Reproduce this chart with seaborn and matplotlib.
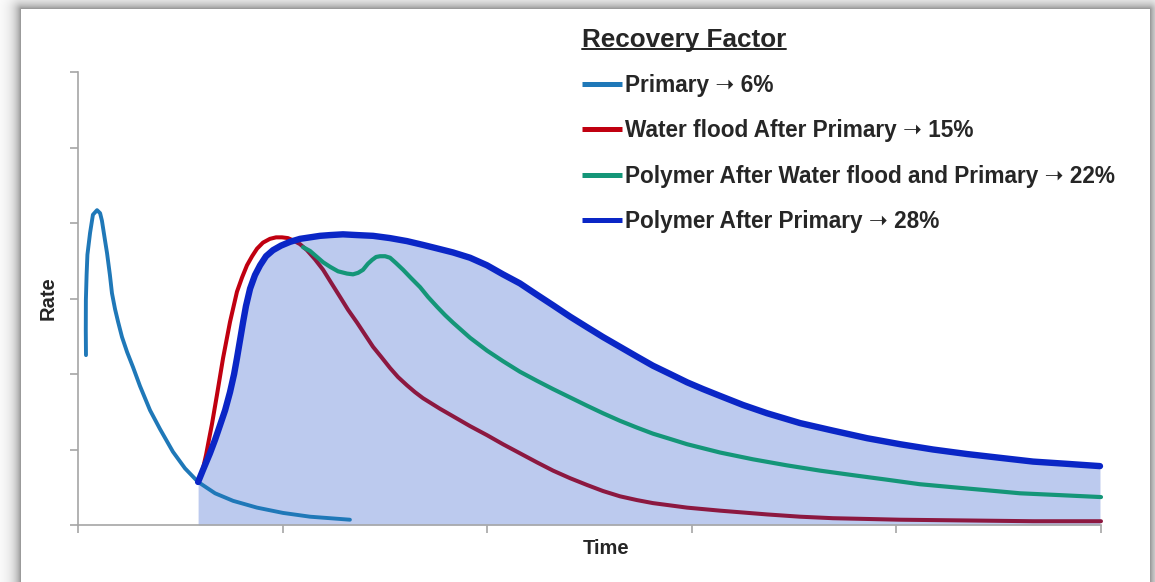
import numpy as np
import pandas as pd
import matplotlib
matplotlib.use("Agg")
import matplotlib.pyplot as plt
from matplotlib.lines import Line2D
import seaborn as sns

# ---- production profiles (time and rate in arbitrary units) ----
primary_t = [0.039, 0.038, 0.0385, 0.042, 0.046, 0.059, 0.073, 0.093, 0.108, 0.117, 0.132,
             0.142, 0.156, 0.166, 0.181, 0.196, 0.215, 0.240, 0.269, 0.303, 0.352, 0.401,
             0.464, 0.523, 0.587, 0.670, 0.758, 0.875, 1.002, 1.134, 1.329]
primary_q = [2.25, 2.58, 2.98, 3.31, 3.58, 3.87, 4.11, 4.17, 4.13, 4.03, 3.77,
             3.60, 3.31, 3.07, 2.86, 2.69, 2.49, 2.29, 2.09, 1.84, 1.52, 1.27,
             0.97, 0.75, 0.57, 0.42, 0.32, 0.23, 0.16, 0.11, 0.07]

# water flood: ramp-up phase, then decline phase
wf_rise_t = [0.587, 0.596, 0.611, 0.626, 0.640, 0.655, 0.679, 0.709, 0.743, 0.777, 0.802,
             0.826, 0.851, 0.875, 0.904, 0.938, 0.968, 0.997, 1.026, 1.051]
wf_rise_q = [0.57, 0.62, 0.75, 0.93, 1.13, 1.34, 1.72, 2.21, 2.69, 3.09, 3.28,
             3.44, 3.56, 3.66, 3.74, 3.79, 3.81, 3.81, 3.80, 3.77]
wf_decl_t = [1.051, 1.085, 1.119, 1.158, 1.198, 1.237, 1.281, 1.320, 1.364, 1.403, 1.442,
             1.481, 1.525, 1.564, 1.608, 1.647, 1.686, 1.769, 1.833, 1.916, 1.999, 2.077,
             2.160, 2.243, 2.322, 2.405, 2.488, 2.566, 2.649, 2.732, 2.810, 2.894, 2.977,
             3.138, 3.368, 3.529, 3.690, 3.856, 4.018, 4.345, 4.668, 5.000]
wf_decl_q = [3.77, 3.72, 3.64, 3.52, 3.38, 3.21, 3.02, 2.85, 2.68, 2.52, 2.36,
             2.23, 2.08, 1.96, 1.85, 1.76, 1.68, 1.54, 1.44, 1.31, 1.19, 1.07,
             0.95, 0.83, 0.72, 0.62, 0.53, 0.45, 0.38, 0.33, 0.29, 0.26, 0.23,
             0.19, 0.14, 0.11, 0.09, 0.08, 0.07, 0.06, 0.05, 0.05]

poly_wf_t = [1.100, 1.134, 1.168, 1.198, 1.232, 1.271, 1.315, 1.344, 1.369, 1.393, 1.417,
             1.437, 1.457, 1.476, 1.501, 1.525, 1.554, 1.589, 1.628, 1.672, 1.711, 1.755,
             1.794, 1.833, 1.916, 1.999, 2.077, 2.160, 2.243, 2.322, 2.405, 2.488, 2.566,
             2.649, 2.732, 2.810, 2.894, 2.977, 3.138, 3.299, 3.465, 3.627, 3.788, 3.954,
             4.115, 4.277, 4.443, 4.604, 4.765, 5.000]
poly_wf_q = [3.68, 3.63, 3.55, 3.48, 3.42, 3.36, 3.33, 3.32, 3.34, 3.38, 3.46,
             3.51, 3.55, 3.56, 3.56, 3.54, 3.47, 3.38, 3.27, 3.15, 3.02, 2.89,
             2.78, 2.68, 2.48, 2.31, 2.17, 2.03, 1.91, 1.80, 1.69, 1.58, 1.48,
             1.38, 1.29, 1.21, 1.14, 1.07, 0.96, 0.87, 0.79, 0.72, 0.66, 0.60,
             0.54, 0.50, 0.46, 0.42, 0.40, 0.37]

poly_t = [0.587, 0.611, 0.645, 0.670, 0.694, 0.719, 0.743, 0.763, 0.777, 0.792, 0.807,
          0.821, 0.841, 0.865, 0.890, 0.919, 0.953, 0.992, 1.036, 1.085, 1.134, 1.183,
          1.232, 1.295, 1.364, 1.442, 1.525, 1.608, 1.686, 1.760, 1.833, 1.916, 1.999,
          2.077, 2.160, 2.243, 2.322, 2.405, 2.488, 2.566, 2.649, 2.732, 2.810, 2.894,
          2.977, 3.055, 3.138, 3.250, 3.368, 3.529, 3.690, 3.856, 4.018, 4.179, 4.345,
          4.506, 4.668, 4.834, 4.995]
poly_q = [0.57, 0.73, 0.95, 1.13, 1.32, 1.52, 1.76, 2.00, 2.21, 2.45, 2.69,
          2.90, 3.13, 3.31, 3.44, 3.56, 3.64, 3.70, 3.75, 3.79, 3.81, 3.83,
          3.84, 3.85, 3.84, 3.83, 3.80, 3.76, 3.71, 3.66, 3.61, 3.54, 3.44,
          3.32, 3.20, 3.05, 2.91, 2.76, 2.62, 2.49, 2.36, 2.23, 2.11, 2.00,
          1.89, 1.80, 1.71, 1.59, 1.48, 1.35, 1.25, 1.15, 1.07, 1.00, 0.94,
          0.89, 0.84, 0.81, 0.78]

legend_labels = ["Primary \u279d 6%",
                 "Water flood After Primary \u279d 15%",
                 "Polymer After Water flood and Primary \u279d 22%",
                 "Polymer After Primary \u279d 28%"]
legend_title = "Recovery Factor"

c_primary = "#1f78b8"
c_wf_rise = "#c00010"
c_wf_decl = "#8c1840"
c_poly_wf = "#149678"
c_poly = "#0a26c6"
c_fill = "#bccaee"
c_axis = "#a6a6a6"

sns.set_style("ticks")
plt.rcParams["font.family"] = ["Liberation Sans", "DejaVu Sans"]

W, H = 1155, 582
fig = plt.figure(figsize=(W / 100, H / 100), dpi=100)
fig.patch.set_facecolor("white")

# card background with a soft drop shadow on the top and left
yy, xx = np.mgrid[0:H, 0:W].astype(float)
cx0, cy0, cx1 = 21, 9, 1149
dx = np.maximum(np.maximum(cx0 - xx, 0), xx - cx1)
dy = np.maximum(cy0 - yy, 0)
dist = np.hypot(dx, dy)
shade = np.where(dist > 0, 1 - 0.45 * np.exp(-dist / 7.0), 1.0)
img = np.dstack([shade, shade, shade])
fig.figimage(img, xo=0, yo=0, origin="upper", zorder=-10)

ax = fig.add_axes([78 / W, 57 / H, 1023 / W, 453 / H])
ax.set_zorder(5)
ax.set_facecolor("none")

ax.fill_between(poly_t, poly_q, 0, color=c_fill, lw=0, zorder=1)

line_kw = dict(sort=False, estimator=None, ax=ax, legend=False,
               solid_capstyle="round", solid_joinstyle="round")
sns.lineplot(x=primary_t, y=primary_q, color=c_primary, linewidth=2.8, zorder=3, **line_kw)
sns.lineplot(x=wf_rise_t, y=wf_rise_q, color=c_wf_rise, linewidth=2.9, zorder=4, **line_kw)
sns.lineplot(x=wf_decl_t, y=wf_decl_q, color=c_wf_decl, linewidth=2.9, zorder=4, **line_kw)
sns.lineplot(x=poly_wf_t, y=poly_wf_q, color=c_poly_wf, linewidth=3.0, zorder=5, **line_kw)
sns.lineplot(x=poly_t, y=poly_q, color=c_poly, linewidth=4.6, zorder=6, **line_kw)
for ln in ax.get_lines():
    ln.set_clip_on(False)

ax.set_xlim(0, 5)
ax.set_ylim(0, 6)
ax.set_xticks(range(0, 6))
ax.set_yticks(range(0, 7))
ax.set_xticklabels([])
ax.set_yticklabels([])
ax.tick_params(axis="both", direction="out", length=6, width=1.2, color=c_axis)
sns.despine(ax=ax)
for side in ("left", "bottom"):
    ax.spines[side].set_color(c_axis)
    ax.spines[side].set_linewidth(1.2)

ax.set_xlabel("Time", fontsize=14.5, fontweight="bold")
ax.set_ylabel("Rate", fontsize=14.5, fontweight="bold")
ax.xaxis.label.set_va("center")
ax.yaxis.label.set_va("center")
ax.xaxis.set_label_coords(0.516, -0.052)
ax.yaxis.set_label_coords(-0.0293, 0.5)

handles = [Line2D([], [], color=c, lw=3.6, solid_capstyle="butt")
           for c in (c_primary, c_wf_rise, c_poly_wf, c_poly)]
leg = ax.legend(handles, legend_labels, title=legend_title,
                loc="upper left", bbox_to_anchor=(582 / W, 1 - 28 / H),
                bbox_transform=fig.transFigure, frameon=False,
                prop={"size": 16.3, "weight": "bold"},
                title_fontproperties={"size": 18.8, "weight": "bold"},
                handlelength=1.75, handletextpad=0.15, labelspacing=0.98,
                borderpad=0, borderaxespad=0, alignment="left")
leg.set_zorder(10)

# underline the legend title
fig.canvas.draw()
tb = leg.get_title().get_window_extent(fig.canvas.get_renderer())
uy = tb.y0 + 0.12 * tb.height
fig.add_artist(Line2D([tb.x0 / W, tb.x1 / W], [uy / H, uy / H],
                      transform=fig.transFigure, color="#222222", lw=1.4, zorder=10))

fig.savefig("out.png", dpi=100)
